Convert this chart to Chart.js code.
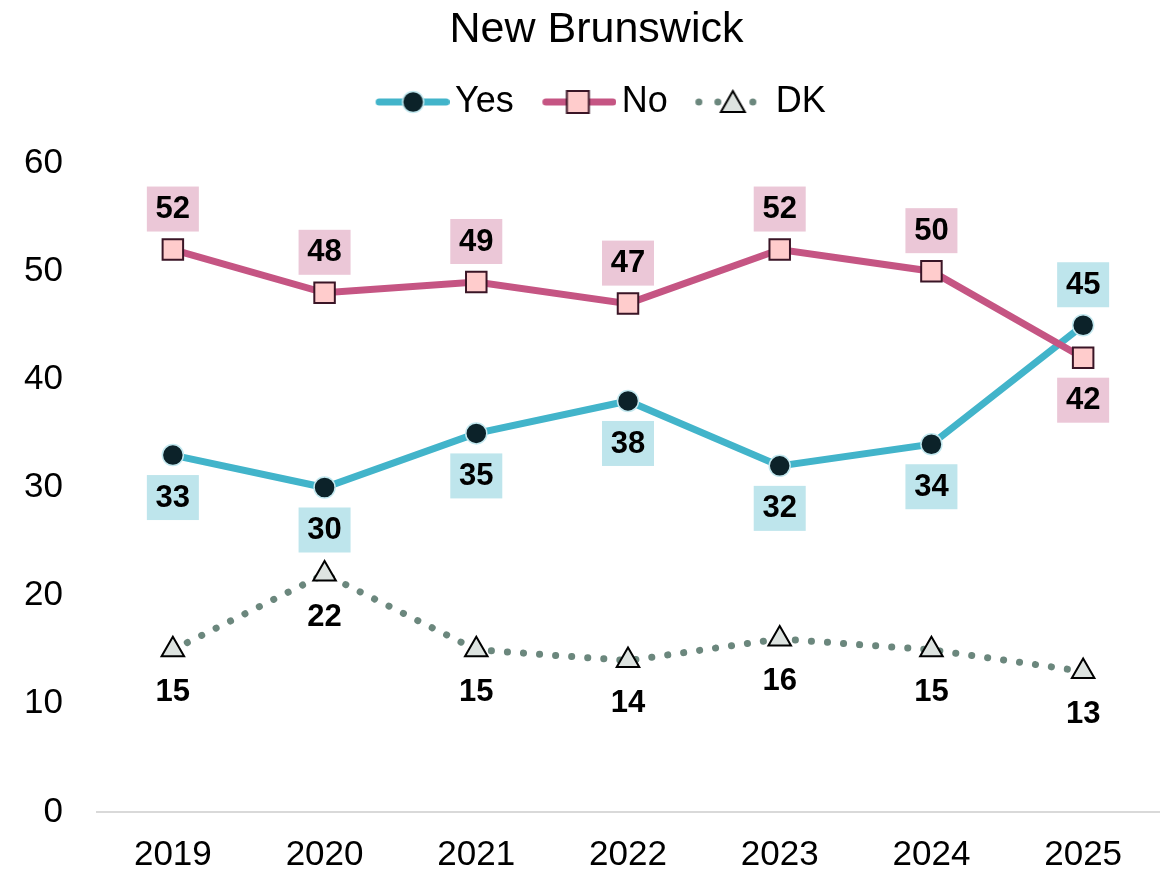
<!DOCTYPE html>
<html>
<head>
<meta charset="utf-8">
<script src="https://cdn.jsdelivr.net/npm/chart.js@4.4.1/dist/chart.umd.min.js"></script>
<style>
    html, body { margin: 0; padding: 0; background: #ffffff; }
    #wrap { width: 1163px; height: 873px; }
</style>
</head>
<body>
<div id="wrap"><canvas id="grafico"></canvas></div>
<script>
// Datos
const years = ['2019', '2020', '2021', '2022', '2023', '2024', '2025'];
const yesValues = [33, 30, 35, 38, 32, 34, 45];
const noValues = [52, 48, 49, 47, 52, 50, 42];
const dkValues = [15, 22, 15, 14, 16, 15, 13];
const yTicks = [0, 10, 20, 30, 40, 50, 60];

const FONT = '"Liberation Sans", Arial, sans-serif';

const YES_LINE = '#42b4ca';
const NO_LINE = '#c55583';
const DK_LINE = '#6b877d';

// Leyenda: ancho de caja y lienzo del icono
const LEG_FONT = 36;
const LEG_BOX = 80;
const LEG_W = LEG_BOX + 25;
const LEG_X0 = LEG_BOX - 50 - (LEG_FONT / 2 - 17.5);   // inicio del dibujo dentro del lienzo

// Iconos de la leyenda (linea + marcador)
function legendIcon(kind) {
    const c = document.createElement('canvas');
    c.width = LEG_W;
    c.height = 32;
    const g = c.getContext('2d');
    const cy = 16;
    const x0 = LEG_X0 + 1;
    if (kind === 'yes' || kind === 'no') {
        g.strokeStyle = kind === 'yes' ? YES_LINE : NO_LINE;
        g.lineWidth = 7;
        g.lineCap = 'round';
        g.beginPath();
        g.moveTo(x0 + 4, cy);
        g.lineTo(x0 + 71, cy);
        g.stroke();
        if (kind === 'yes') {
            g.fillStyle = '#0c2229';
            g.strokeStyle = '#c3e8ef';
            g.lineWidth = 1.5;
            g.beginPath();
            g.arc(x0 + 38, cy, 10.5, 0, Math.PI * 2);
            g.fill();
            g.stroke();
        } else {
            g.fillStyle = '#ffcccc';
            g.strokeStyle = '#3a1526';
            g.lineWidth = 2;
            g.fillRect(x0 + 25, cy - 11, 22, 22);
            g.strokeRect(x0 + 25, cy - 11, 22, 22);
        }
    } else {
        g.fillStyle = DK_LINE;
        [3, 22, 57].forEach(x => {
            g.beginPath();
            g.arc(x0 + x, cy, 3.5, 0, Math.PI * 2);
            g.fill();
        });
        g.fillStyle = '#dde3e0';
        g.strokeStyle = '#000';
        g.lineWidth = 2;
        g.beginPath();
        g.moveTo(x0 + 37, cy - 11);
        g.lineTo(x0 + 49, cy + 10);
        g.lineTo(x0 + 25, cy + 10);
        g.closePath();
        g.fill();
        g.stroke();
    }
    return c;
}

// Etiquetas con caja de fondo
const etiquetas = {
    id: 'etiquetas',
    afterDatasetsDraw(chart) {
        const ctx = chart.ctx;
        ctx.save();
        ctx.font = 'bold 31px ' + FONT;
        ctx.textAlign = 'center';
        ctx.textBaseline = 'middle';
        chart.data.datasets.forEach((ds, i) => {
            const meta = chart.getDatasetMeta(i);
            meta.data.forEach((pt, j) => {
                const v = ds.data[j];
                let up;
                if (ds.key === 'yes') up = v > noValues[j];
                else if (ds.key === 'no') up = v >= yesValues[j];
                else up = false;
                const cy = pt.y + (up ? -41 : 42);
                if (ds.boxColor) {
                    ctx.fillStyle = ds.boxColor;
                    ctx.fillRect(pt.x - 26, cy - 22, 52, 45);
                }
                ctx.fillStyle = '#000';
                ctx.fillText(String(v), pt.x, cy + 1);
            });
        });
        ctx.restore();
    }
};

// Posicion de titulo y leyenda como en el original
function moverCaja(box, dx, dy) {
    box.left += dx;
    box.right += dx;
    box.top += dy;
    box.bottom += dy;
}
const cabecera = {
    id: 'cabecera',
    afterLayout(chart) {
        moverCaja(chart.titleBlock, 5, -31);
        moverCaja(chart.legend, 0, -33);
    }
};

const ctx = document.getElementById('grafico').getContext('2d');
new Chart(ctx, {
    type: 'line',
    data: {
        labels: years,
        datasets: [{
            key: 'yes',
            label: 'Yes',
            data: yesValues,
            borderColor: YES_LINE,
            borderWidth: 7,
            pointStyle: 'circle',
            pointRadius: 10.5,
            pointBackgroundColor: '#0c2229',
            pointBorderColor: '#c3e8ef',
            pointBorderWidth: 1.5,
            boxColor: '#bee5ec',
            order: 1
        }, {
            key: 'no',
            label: 'No',
            data: noValues,
            borderColor: NO_LINE,
            borderWidth: 7,
            pointStyle: 'rect',
            pointRadius: 14.5,
            pointBackgroundColor: '#ffcccc',
            pointBorderColor: '#3a1526',
            pointBorderWidth: 2,
            boxColor: '#ebc7d7',
            order: 0
        }, {
            key: 'dk',
            label: 'DK',
            data: dkValues,
            borderColor: DK_LINE,
            borderWidth: 7,
            borderDash: [0.1, 16],
            borderCapStyle: 'round',
            pointStyle: 'triangle',
            pointRadius: 13,
            pointBackgroundColor: '#dde3e0',
            pointBorderColor: '#000000',
            pointBorderWidth: 2,
            boxColor: null,
            order: 2
        }]
    },
    options: {
        responsive: true,
        maintainAspectRatio: false,
        animation: false,
        layout: { autoPadding: false, padding: { left: 24, right: 4, top: 2, bottom: 0 } },
        scales: {
            x: {
                offset: true,
                grid: { display: false, drawTicks: false },
                border: { display: true, color: '#d9d9d9', width: 2 },
                ticks: { color: '#000', font: { family: FONT, size: 35, lineHeight: 1 }, padding: 26 },
                afterFit: s => { s.height = 61; }
            },
            y: {
                min: 0,
                max: 60,
                afterBuildTicks: scale => { scale.ticks = yTicks.map(v => ({ value: v })); },
                grid: { display: false, drawTicks: false },
                border: { display: false },
                ticks: { color: '#000', font: { family: FONT, size: 35 }, padding: 34 },
                afterFit: s => { s.width = 73; s.paddingTop = 163; }
            }
        },
        plugins: {
            title: {
                display: true,
                text: 'New Brunswick',
                color: '#000',
                font: { family: FONT, size: 43, weight: 'normal' },
                padding: { top: 0, bottom: 20 }
            },
            legend: {
                display: true,
                labels: {
                    usePointStyle: true,
                    pointStyleWidth: LEG_BOX,
                    padding: 10,
                    color: '#000',
                    font: { family: FONT, size: LEG_FONT },
                    generateLabels: chart => chart.data.datasets.map((ds, i) => ({
                        text: ds.label,
                        pointStyle: legendIcon(ds.key),
                        fontColor: '#000',
                        lineWidth: 0,
                        strokeStyle: 'transparent',
                        fillStyle: 'transparent',
                        hidden: false,
                        datasetIndex: i
                    }))
                }
            },
            tooltip: { enabled: false }
        }
    },
    plugins: [etiquetas, cabecera]
});
</script>
</body>
</html>
